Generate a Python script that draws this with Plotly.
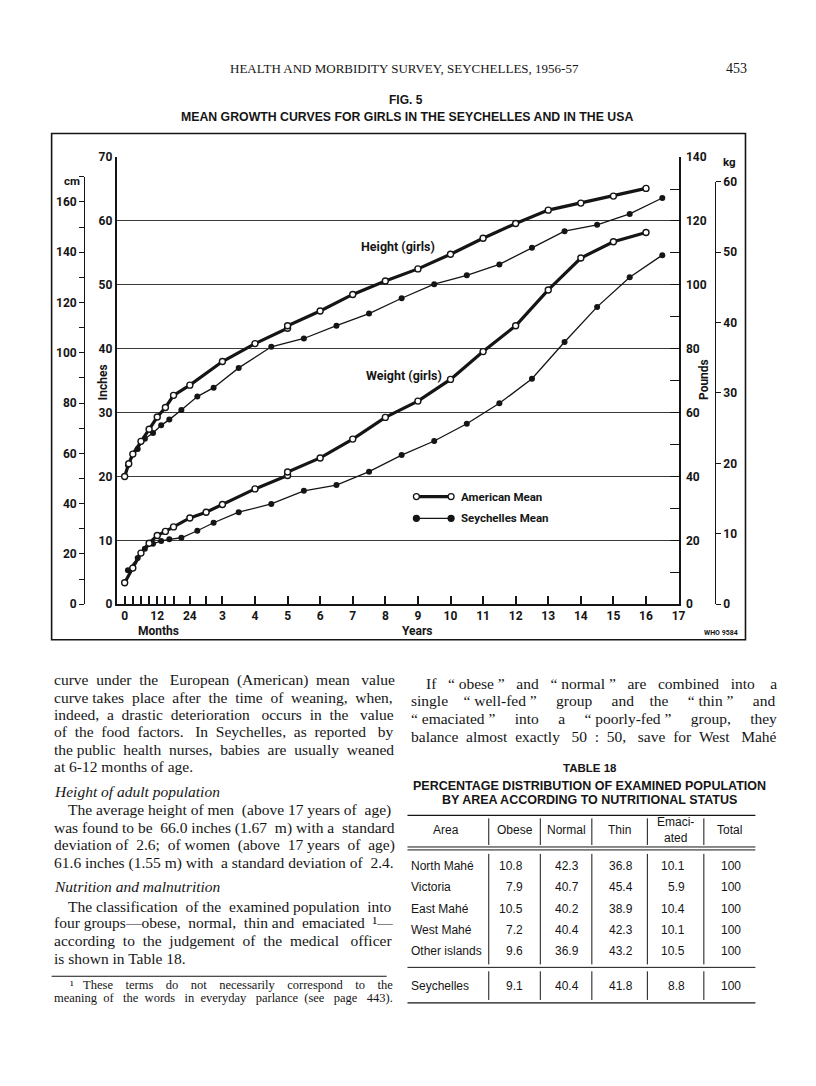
import plotly.graph_objects as go

# The page is 816x1086; the browser body keeps its default 8px margin,
# so the figure is 800x1070 and page pixel (px, py) maps to figure pixel (px-8, py-8).
PAGE_W, PAGE_H = 816, 1086
BODY_MARGIN = 8
W, H = PAGE_W - 2 * BODY_MARGIN, PAGE_H - 2 * BODY_MARGIN


def fx(px):
    return (px - BODY_MARGIN) / W


def fy(py):
    return 1 - (py - BODY_MARGIN) / H


# ---------------- data (ages in years; heights in inches; weights in pounds) ----------------
us_height_age = [0, 0.125, 0.25, 0.5, 0.75, 1.0, 1.25, 1.5, 2.0, 3.0, 4.0, 5.0, 5.0,
                 6, 7, 8, 9, 10, 11, 12, 13, 14, 15, 16]
us_height = [20.0, 22.0, 23.5, 25.5, 27.4, 29.3, 30.8, 32.7, 34.3, 38.0, 40.8, 43.2, 43.6,
             45.9, 48.5, 50.6, 52.5, 54.8, 57.3, 59.6, 61.7, 62.8, 63.9, 65.1]

sey_height_age = [0.1, 0.4, 0.62, 0.87, 1.12, 1.37, 1.74, 2.23, 2.73, 3.5, 4.5,
                  5.5, 6.5, 7.5, 8.5, 9.5, 10.5, 11.5, 12.5, 13.5, 14.5, 15.5, 16.5]
sey_height = [21.8, 24.3, 25.9, 26.8, 28.0, 28.9, 30.4, 32.5, 33.9, 37.0, 40.3,
              41.6, 43.6, 45.5, 47.9, 50.1, 51.5, 53.2, 55.8, 58.4, 59.4, 61.1, 63.6]

us_weight_age = [0, 0.25, 0.5, 0.75, 1.0, 1.25, 1.5, 2.0, 2.5, 3.0, 4.0, 5.0, 5.0,
                 6, 7, 8, 9, 10, 11, 12, 13, 14, 15, 16]
us_weight = [6.7, 11.3, 16.0, 19.1, 21.5, 22.8, 24.2, 27.0, 28.8, 31.2, 36.1, 40.3, 41.4,
             45.8, 51.7, 58.5, 63.6, 70.4, 79.1, 87.2, 98.4, 108.4, 113.5, 116.4]

sey_weight_age = [0.1, 0.4, 0.62, 0.87, 1.12, 1.37, 1.74, 2.23, 2.73, 3.5, 4.5,
                  5.5, 6.5, 7.5, 8.5, 9.5, 10.5, 11.5, 12.5, 13.5, 14.5, 15.5, 16.5]
sey_weight = [10.6, 14.5, 17.4, 18.9, 19.8, 20.3, 20.8, 23.0, 25.5, 28.8, 31.4,
              35.5, 37.3, 41.5, 46.7, 51.1, 56.5, 62.9, 70.6, 82.1, 93.1, 102.4, 109.3]

x_tickvals = [0, 0.25, 0.5, 0.75, 1, 1.25, 1.5, 2, 2.5] + list(range(3, 18))
x_ticktext = ["0", "", "", "", "12", "", "", "24", ""] + [str(v) for v in range(3, 18)]
inch_ticks = list(range(0, 71, 10))
pound_ticks = list(range(0, 141, 10))
cm_ticks = list(range(0, 171, 10))
kg_ticks = list(range(0, 61, 10))

# table 18
areas = ["North Mahé", "Victoria", "East Mahé", "West Mahé", "Other islands"]
obese = [10.8, 7.9, 10.5, 7.2, 9.6]
normal = [42.3, 40.7, 40.2, 40.4, 36.9]
thin = [36.8, 45.4, 38.9, 42.3, 43.2]
emaciated = [10.1, 5.9, 10.4, 10.1, 10.5]
total = [100, 100, 100, 100, 100]
total_row = ["Seychelles", 9.1, 40.4, 41.8, 8.8, 100]
table_header = ["Area", "Obese", "Normal", "Thin", "Emaci-<br>ated", "Total"]

# ---------------- styling ----------------
INK = "#151515"
GRID = "#3a3a3a"
CHART_FONT = "Roboto, Liberation Sans, Arial, sans-serif"
SANS = "Liberation Sans, Arial, sans-serif"
SERIF = "Liberation Serif, Times New Roman, serif"

fig = go.Figure()

thin_line = dict(color=INK, width=1.3)
thick_line = dict(color=INK, width=3.2)
filled = dict(symbol="circle", size=6, color=INK, line=dict(color=INK, width=0))
hollow = dict(symbol="circle", size=6, color="white", line=dict(color=INK, width=1.4))

fig.add_trace(go.Scatter(x=sey_height_age, y=sey_height, mode="lines+markers",
                         line=thin_line, marker=filled, xaxis="x", yaxis="y",
                         name="Seychelles Mean (height)"))
fig.add_trace(go.Scatter(x=sey_weight_age, y=sey_weight, mode="lines+markers",
                         line=thin_line, marker=filled, xaxis="x", yaxis="y2",
                         name="Seychelles Mean (weight)"))
fig.add_trace(go.Scatter(x=us_height_age, y=us_height, mode="lines+markers",
                         line=thick_line, marker=hollow, xaxis="x", yaxis="y",
                         name="American Mean (height)"))
fig.add_trace(go.Scatter(x=us_weight_age, y=us_weight, mode="lines+markers",
                         line=thick_line, marker=hollow, xaxis="x", yaxis="y2",
                         name="American Mean (weight)"))
# invisible companions so that the metric (cm / kg) scales are drawn
fig.add_trace(go.Scatter(x=us_height_age, y=[v * 2.54 for v in us_height], mode="lines",
                         line=dict(width=0), opacity=0, hoverinfo="skip",
                         xaxis="x", yaxis="y3", showlegend=False))
fig.add_trace(go.Scatter(x=us_weight_age, y=[v / 2.2046 for v in us_weight], mode="lines",
                         line=dict(width=0), opacity=0, hoverinfo="skip",
                         xaxis="x", yaxis="y4", showlegend=False))

tickfont = dict(family=CHART_FONT, size=12, color=INK, weight="bold")

# pixel geometry of the plotting frame (page pixels)
X_LEFT, X_RIGHT = 117.7, 684.5
X_ZERO = 125.7
Y_BOTTOM, Y_TOP = 605, 152
px_per_year = (X_RIGHT - X_ZERO) / 17.0
x_min = -(X_ZERO - X_LEFT) / px_per_year
px_per_inch = (Y_BOTTOM - Y_TOP) / 70.0
cm_top_px = Y_BOTTOM - 170 / 2.54 * px_per_inch
kg_top_px = Y_BOTTOM - 60 * 2.2046 / 2 * px_per_inch

fig.update_layout(
    width=W, height=H, autosize=False,
    margin=dict(l=0, r=0, t=0, b=0, pad=0),
    paper_bgcolor="white", plot_bgcolor="rgba(0,0,0,0)",
    showlegend=False,
    xaxis=dict(domain=[fx(X_LEFT), fx(X_RIGHT)], range=[x_min, 17.0],
               tickmode="array", tickvals=x_tickvals, ticktext=x_ticktext,
               ticks="inside", ticklen=8, tickwidth=1.5, tickcolor=INK,
               ticklabelstandoff=-1,
               showline=True, linewidth=2, linecolor=INK, showgrid=False,
               zeroline=False, tickfont=tickfont, anchor="y"),
    yaxis=dict(domain=[fy(Y_BOTTOM), fy(Y_TOP)], range=[0, 70],
               tickmode="array", tickvals=inch_ticks,
               ticks="", showgrid=True, gridcolor=GRID, gridwidth=1.1,
               showline=True, linewidth=2, linecolor=INK, zeroline=False,
               tickfont=tickfont, anchor="x"),
    yaxis2=dict(overlaying="y", side="right", range=[0, 140], anchor="x",
                tickmode="array", tickvals=pound_ticks,
                ticktext=[str(v) if v % 20 == 0 else "" for v in pound_ticks],
                ticks="inside", ticklen=9, tickwidth=1.2, tickcolor=INK,
                ticklabelstandoff=3,
                showgrid=False, showline=True, linewidth=2, linecolor=INK,
                zeroline=False, tickfont=tickfont),
    yaxis3=dict(anchor="free", position=fx(85), side="left",
                domain=[fy(Y_BOTTOM), fy(cm_top_px)], range=[0, 170],
                tickmode="array", tickvals=cm_ticks,
                ticktext=[str(v) if v % 20 == 0 else "" for v in cm_ticks],
                ticks="outside", ticklen=5, tickwidth=1.2, tickcolor=INK,
                showgrid=False, showline=True, linewidth=1.4, linecolor=INK,
                zeroline=False, tickfont=tickfont),
    yaxis4=dict(anchor="free", position=fx(721), side="right",
                domain=[fy(Y_BOTTOM), fy(kg_top_px)], range=[0, 60],
                tickmode="array", tickvals=kg_ticks,
                ticks="outside", ticklen=5, tickwidth=1.2, tickcolor=INK,
                showgrid=False, showline=True, linewidth=1.4, linecolor=INK,
                zeroline=False, tickfont=tickfont),
)

annotations = []
shapes = []


def txt(x, y, s, size, family, anchor="left", weight="normal", style="normal", angle=0):
    annotations.append(dict(
        x=fx(x), y=fy(y), xref="paper", yref="paper", text=s, showarrow=False,
        xanchor=anchor, yanchor="middle", textangle=angle,
        font=dict(family=family, size=size, color=INK, weight=weight, style=style)))


def hline(x0, x1, y, w=1.0):
    shapes.append(dict(type="line", xref="paper", yref="paper", x0=fx(x0), x1=fx(x1),
                       y0=fy(y), y1=fy(y), line=dict(color=INK, width=w)))


def vline(x, y0, y1, w=1.0):
    shapes.append(dict(type="line", xref="paper", yref="paper", x0=fx(x), x1=fx(x),
                       y0=fy(y0), y1=fy(y1), line=dict(color=INK, width=w)))


# Times (Liberation Serif) advance widths, per 1000 em, used to justify text lines
TIMES = dict(zip("abcdefghijklmnopqrstuvwxyz",
                 [444, 500, 444, 500, 444, 333, 500, 500, 278, 278, 500, 278, 778,
                  500, 500, 500, 500, 333, 389, 278, 500, 500, 722, 500, 500, 444]))
TIMES.update(zip("ABCDEFGHIJKLMNOPQRSTUVWXYZ",
                 [722, 667, 667, 722, 611, 556, 722, 722, 333, 389, 722, 611, 889,
                  722, 722, 556, 722, 667, 556, 611, 722, 722, 944, 722, 722, 611]))
TIMES.update({c: 500 for c in "0123456789"})
TIMES.update({" ": 250, "\u00a0": 250, "(": 333, ")": 333, ",": 250, ".": 250,
              ";": 278, ":": 278, "-": 333, "—": 1000, "“": 444, "”": 444,
              "¹": 300, "é": 444})


def justify(s, width, size):
    """Spread the words of one line so that it fills `width` pixels."""
    words = s.split(" ")
    gaps = len(words) - 1
    natural = sum(TIMES.get(c, 500) for c in s) * size / 1000.0
    n = int(round((width - natural) / (0.25 * size)))
    if gaps <= 0 or n <= 0:
        return s
    out = words[0]
    for i, w in enumerate(words[1:]):
        extra = (n * (i + 1)) // gaps - (n * i) // gaps
        out += " " + "\u00a0" * extra + w
    return out


def q(word):
    """Typographic quotes with the narrow inner spaces of the original."""
    return "“\u00a0" + word + "\u00a0”"


# ---- page header & figure titles
txt(408, 62, "HEALTH AND MORBIDITY SURVEY, SEYCHELLES, 1956-57", 13, SERIF, "center")
txt(756, 62, "453", 14, SERIF, "right")
txt(410, 94, "FIG. 5", 12, SANS, "center", "bold")
txt(411, 111, "MEAN GROWTH CURVES FOR GIRLS IN THE SEYCHELLES AND IN THE USA", 12.3,
    SANS, "center", "bold")

# ---- chart frame and labels
shapes.append(dict(type="rect", xref="paper", yref="paper", x0=fx(52), x1=fx(752),
                   y0=fy(641), y1=fy(128), line=dict(color=INK, width=1.6)))
txt(73, 176, "cm", 11.5, CHART_FONT, "center", "bold")
txt(736, 157, "kg", 11.5, CHART_FONT, "center", "bold")
txt(104, 380, "Inches", 12, CHART_FONT, "center", "bold", angle=-90)
txt(710, 377, "Pounds", 12, CHART_FONT, "center", "bold", angle=-90)
txt(401, 243, "Height (girls)", 12.5, CHART_FONT, "center", "bold")
txt(407, 373, "Weight (girls)", 12.5, CHART_FONT, "center", "bold")
txt(160, 632, "Months", 12, CHART_FONT, "center", "bold")
txt(421, 632, "Years", 12, CHART_FONT, "center", "bold")
txt(727, 634, "WHO 9584", 7, CHART_FONT, "center", "bold")

# legend keys
for yk, w, fill in [(496, 3.2, "white"), (518, 1.3, INK)]:
    hline(420, 455, yk, w)
    for xc in (420, 455):
        shapes.append(dict(type="circle", xref="paper", yref="paper",
                           x0=fx(xc - 3), x1=fx(xc + 3), y0=fy(yk + 3), y1=fy(yk - 3),
                           fillcolor=fill, line=dict(color=INK, width=1.3)))
txt(463, 496, "American Mean", 11.5, CHART_FONT, "left", "bold")
txt(463, 518, "Seychelles Mean", 11.5, CHART_FONT, "left", "bold")

# ---- left column body text  (x, y, text, justified?)
BODY = 15.5
L_RIGHT = 391
left_lines = [
    (52, 682, "curve under the European (American) mean value", True),
    (52, 700, "curve takes place after the time of weaning, when,", True),
    (52, 717, "indeed, a drastic deterioration occurs in the value", True),
    (52, 734, "of the food factors. In Seychelles, as reported by", True),
    (52, 752, "the public health nurses, babies are usually weaned", True),
    (52, 769, "at 6-12 months of age.", False),
    (67, 814, "The average height of men (above 17 years of age)", True),
    (52, 832, "was found to be 66.0 inches (1.67 m) with a standard", True),
    (52, 849, "deviation of 2.6; of women (above 17 years of age)", True),
    (52, 867, "61.6 inches (1.55 m) with a standard deviation of 2.4.", True),
    (67, 911, "The classification of the examined population into", True),
    (52, 928, "four groups—obese, normal, thin and emaciated ¹—", True),
    (52, 946, "according to the judgement of the medical officer", True),
    (52, 964, "is shown in Table 18.", False),
]
for x, y, s, j in left_lines:
    txt(x, y, justify(s, L_RIGHT - x, BODY) if j else s, BODY, SERIF)
txt(52, 795, "Height of adult population", BODY, SERIF, style="italic")
txt(52, 891, "Nutrition and malnutrition", BODY, SERIF, style="italic")
hline(52, 390, 982, 1.0)
FOOT = 12.5
txt(69, 991, justify("¹ These terms do not necessarily correspond to the", L_RIGHT - 69, FOOT),
    FOOT, SERIF)
txt(52, 1004, justify("meaning of the words in everyday parlance (see page 443).",
                      L_RIGHT - 52, FOOT), FOOT, SERIF)

# ---- right column text
R_RIGHT = 778
right_lines = [
    (428, 685, f"If {q('obese')} and {q('normal')} are combined into a"),
    (413, 703, f"single {q('well-fed')} group and the {q('thin')} and"),
    (413, 721, f"{q('emaciated')} into a {q('poorly-fed')} group, they"),
    (413, 739, "balance almost exactly 50 : 50, save for West Mahé"),
]
for x, y, s in right_lines:
    txt(x, y, justify(s, R_RIGHT - x, BODY), BODY, SERIF)

TITLE_C = 595
txt(TITLE_C, 771, "TABLE 18", 11.5, SANS, "center", "bold")
txt(TITLE_C, 789, "PERCENTAGE DISTRIBUTION OF EXAMINED POPULATION", 12.5, SANS,
    "center", "bold")
txt(TITLE_C, 803, "BY AREA ACCORDING TO NUTRITIONAL STATUS", 12.5, SANS, "center", "bold")

# ---- table 18
T_L, T_R = 411, 762
hline(T_L, T_R, 819, 1.2)
hline(T_L, T_R, 851, 1.0)
hline(T_L, T_R, 854, 1.0)
hline(T_L, T_R, 973, 1.0)
hline(T_L, T_R, 1009, 1.2)
col_lines = [493, 545, 597, 653, 710]
for xv in col_lines:
    vline(xv, 822, 849)
    vline(xv, 858, 970)
    vline(xv, 977, 1006)

TFONT = 12
head_x = [450, 519, 571, 625, 681, 736]
for hx, hs in zip(head_x, table_header):
    txt(hx, 834, hs, TFONT, SANS, "center")

num_x = [(530, "right"), (572, "center"), (626, "center"), (693, "right"), (737, "center")]


def table_row(yv, label, vals):
    txt(413, yv, label, TFONT, SANS, "left")
    for (xv, anc), v in zip(num_x, vals):
        s = str(v) if isinstance(v, int) else f"{v:.1f}"
        txt(xv, yv, s, TFONT, SANS, anc)


row_y = [870.5, 892, 913.5, 935, 956]
for i, yv in enumerate(row_y):
    table_row(yv, areas[i], [obese[i], normal[i], thin[i], emaciated[i], total[i]])
table_row(992, total_row[0], total_row[1:])

fig.update_layout(annotations=annotations, shapes=shapes)
fig.write_html("out.html")
